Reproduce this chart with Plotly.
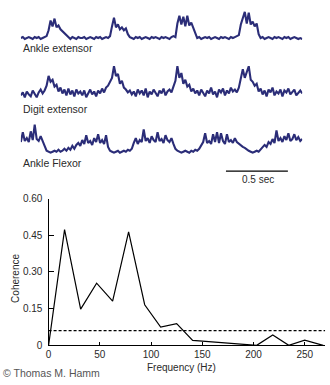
import numpy as np
import plotly.graph_objects as go

W, H = 330, 385

# ---------------- EMG traces (arbitrary units) ----------------
SAMPLE_DT = 0.016  # s per sample
ankle_extensor = [
    0, 1, -1, 0, 1, 0, -1, 1, 0, 1, -1, 0, 1, 2,
    8, 18, 12, 20, 11, 13, 9, 7, 5, 2,
    0, -1, 1, 0, -1, 1, 0, 0, 1, -1, 0, 1, 0, -1, 1, 0, 1, -1, 0, 1, 0, 2,
    12, 21, 11, 14, 9, 11, 8, 10, 4,
    1, 0, -1, 1, 0, 1, -1, 0, 1, 0, -1, 1, 0, 1, 0, -1, 1, 0, 1, 0, -1, 1, 2, 1,
    15, 23, 14, 22, 12, 23, 13, 16, 11, 5,
    0, 1, -1, 0, 1, 0, 1, -1, 0, 1, 0, -1, 1, 0, 1, 0, -1, 1, 0, 1, 2, 3,
    14, 20, 27, 15, 26, 14, 17, 12, 15, 4,
    0, 1, -1, 0, 1, 0, -1, 1, 0, 1, 0, -1, 1, 0, 1, -1, 0, 1, 0, -1, 0, -1,
]
digit_extensor = [
    0, 3, -2, 4, 1, -1, 5, 2, -2, 3, 6, 2,
    5, 10, 20, 14, 16, 9, 11,
    4, 8, 2, 6, 0, 7, 1, 5, -1, 6, 2, 4, 0, 5, -2, 3, 6, 1, 4, -1, 5, 2, 7, 3, 8,
    10, 14, 18, 30, 20, 22, 12, 15, 8,
    6, 3, 5, 1, 4, -1, 6, 2, 5, 0, 7, -2, 4, 1, 6, 3, -1, 5, 2, 7, 0, 4, 6, 3, 8,
    15, 30, 18, 23, 12, 16, 9, 11,
    4, 7, 2, 5, 0, 6, 3, -1, 5, 2, 8, 1, 4, -2, 6, 3, 7, 0, 5, 2, 8, 4, 6, 3,
    8, 17, 27, 18, 24, 30, 16, 14, 10, 12,
    4, 7, 1, 5, -1, 6, 3, 8, 0, 4, 2, 6, -1, 5, 3, 7, 1, 4, 6, 0, 3, 5, 2,
]
ankle_flexor = [
    10, 20, 11, 14, 10, 21, 12, 28, 13, 11, 16, 10, 6,
    1, 0, -1, 0, 1, 0, 2, 0, 1, 3, 1,
    4, 2, 6, 3, 7,
    9, 6, 12, 8, 17, 9, 11, 7, 14, 10, 18, 9, 12, 8, 17,
    5, 1, 0, -1, 0, 1, -1, 0, 1, 0, 2, 1, 3,
    9, 14, 8, 12, 10, 23, 11, 14, 9, 16, 12, 10, 20, 11, 13, 9, 17, 12, 10, 14, 8,
    3, 1, 0, -1, 0, 1, 0, -1, 1, 0, 2, 1, 3,
    6, 10, 19, 9, 11, 8, 18, 10, 20, 9, 19, 11, 8, 18, 10, 12, 9, 14, 10,
    8, 7, 5, 4, 2, 1, 0, -1, 0, 1, 0, 2,
    4, 7, 5, 10, 8, 13, 9, 22, 11, 14, 10, 16, 12, 19, 11, 13, 18, 12, 15, 11, 13,
]
trace_labels = ["Ankle extensor", "Digit extensor", "Ankle Flexor"]
SCALE_BAR_SEC = 0.5
SCALE_BAR_START = 1.656

# ---------------- Coherence spectrum ----------------
freq_hz = [0, 15.6, 31.3, 46.9, 62.5, 78.1, 93.8, 109.4, 125.0, 140.6,
           156.3, 171.9, 187.5, 203.1, 218.8, 234.4, 250.0, 268.0]
coherence = [0.0, 0.473, 0.148, 0.254, 0.181, 0.464, 0.166, 0.075, 0.089, 0.020,
             0.015, 0.010, 0.005, 0.0, 0.042, 0.0, 0.021, 0.0]
THRESHOLD = 0.06
x_ticks = [0, 50, 100, 150, 200, 250]
y_ticks = [0, 0.15, 0.30, 0.45, 0.60]
y_tick_text = ["0", "0.15", "0.30", "0.45", "0.60"]

EMG_COLOR = "#2b2d78"
FONT = "Liberation Sans, Arial, sans-serif"
TXT = "#2a2a2a"


def px_x(p):
    return p / W


def px_y(p):
    return (H - p) / H


fig = go.Figure()

emg = [ankle_extensor, digit_extensor, ankle_flexor]
axes = [("x2", "y2"), ("x2", "y3"), ("x2", "y4")]
for vals, (xa, ya) in zip(emg, axes):
    t = np.arange(len(vals)) * SAMPLE_DT
    fig.add_trace(go.Scatter(x=t, y=vals, mode="lines", xaxis=xa, yaxis=ya,
                             line=dict(color=EMG_COLOR, width=2.1),
                             showlegend=False, hoverinfo="skip"))

fig.add_trace(go.Scatter(x=freq_hz, y=coherence, mode="lines",
                         line=dict(color="black", width=1.2), showlegend=False))
fig.add_trace(go.Scatter(x=[0, 270], y=[THRESHOLD, THRESHOLD], mode="lines",
                         line=dict(color="black", width=1.2, dash="3px,2px"),
                         showlegend=False))

t_end = (len(ankle_extensor) - 1) * SAMPLE_DT
hidden = dict(visible=False, fixedrange=True)

fig.update_layout(
    width=W, height=H, margin=dict(l=0, r=0, t=0, b=0),
    paper_bgcolor="white", plot_bgcolor="white",
    font=dict(family=FONT, color=TXT, size=10),
    xaxis=dict(domain=[px_x(46), px_x(46 + 270 * 1.034)], range=[0, 270],
               tickvals=x_ticks, ticks="inside", ticklen=3, tickcolor="black",
               showline=True, linecolor="black", linewidth=1.3,
               showgrid=False, zeroline=False, tickfont=dict(size=10, color=TXT)),
    yaxis=dict(domain=[px_y(349.3), px_y(198.3)], range=[0, 0.6],
               tickvals=y_ticks, ticktext=y_tick_text, ticks="inside", ticklen=5,
               tickcolor="black", showline=True, linecolor="black", linewidth=1.3,
               ticklabelstandoff=3,
               showgrid=False, zeroline=False, tickfont=dict(size=10, color=TXT)),
    xaxis2=dict(domain=[px_x(18), px_x(302)], range=[0, t_end], anchor="y2", **hidden),
    yaxis2=dict(domain=[px_y(37), px_y(5)], range=[-4, 28], anchor="x2", **hidden),
    yaxis3=dict(domain=[px_y(98), px_y(58)], range=[-6, 34], anchor="x2", **hidden),
    yaxis4=dict(domain=[px_y(153), px_y(118)], range=[-3, 32], anchor="x2", **hidden),
)

# scale bar
fig.add_shape(type="line", xref="x2", yref="paper",
              x0=SCALE_BAR_START, x1=SCALE_BAR_START + SCALE_BAR_SEC,
              y0=px_y(170), y1=px_y(170), line=dict(color="black", width=1.2))

ann = []
for lab, ypx in zip(trace_labels, [43, 106, 162]):
    ann.append(dict(text=lab, x=px_x(18), y=px_y(ypx), xref="paper", yref="paper",
                    xanchor="left", yanchor="middle", showarrow=False,
                    font=dict(size=10.5, color=TXT)))
ann.append(dict(text=f"{SCALE_BAR_SEC} sec", x=px_x(257), y=px_y(179), xref="paper",
                yref="paper", xanchor="center", yanchor="middle", showarrow=False,
                font=dict(size=10, color=TXT)))
ann.append(dict(text="Coherence", x=px_x(12), y=px_y(280), xref="paper", yref="paper",
                xanchor="center", yanchor="middle", showarrow=False, textangle=-90,
                font=dict(size=10, color=TXT)))
ann.append(dict(text="Frequency (Hz)", x=px_x(180), y=px_y(372), xref="paper",
                yref="paper", xanchor="center", yanchor="middle", showarrow=False,
                font=dict(size=10, color=TXT)))
ann.append(dict(text="© Thomas M. Hamm", x=0, y=px_y(378), xref="paper", yref="paper",
                xanchor="left", yanchor="middle", showarrow=False, xshift=-2,
                font=dict(size=10.5, color="#555555")))
fig.update_layout(annotations=ann)

fig.write_html("out.html")
